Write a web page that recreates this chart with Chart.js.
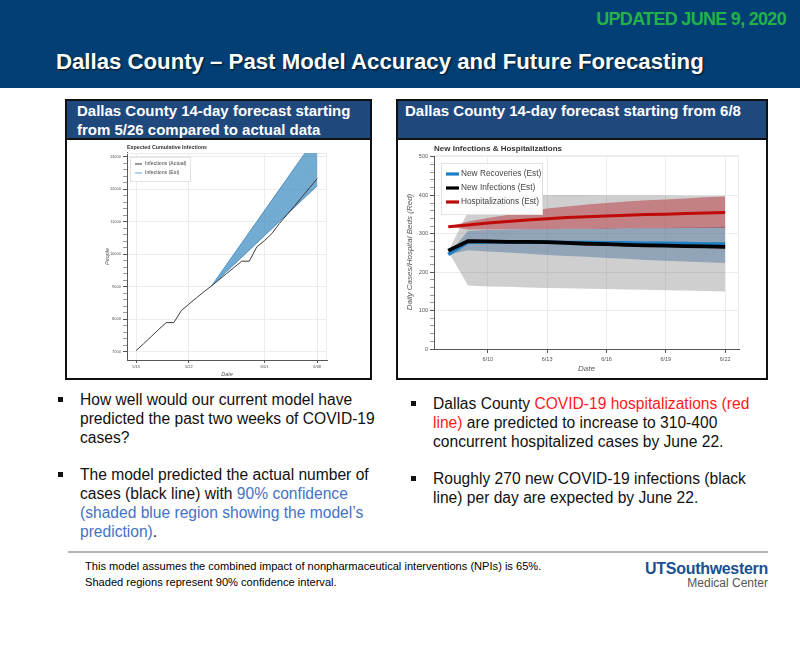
<!DOCTYPE html>
<html>
<head>
<meta charset="utf-8">
<title>Dallas County – Past Model Accuracy and Future Forecasting</title>
<script src="https://cdn.jsdelivr.net/npm/chart.js@4.4.1/dist/chart.umd.min.js"></script>
<style>
  body { margin: 0; background: #fff; }
  #slide { position: relative; width: 800px; height: 660px; overflow: hidden; background: #fff;
           font-family: "Liberation Sans", Arial, Helvetica, sans-serif; color: #111; }
  .banner { position: absolute; left: 0; top: 0; width: 800px; height: 88px; background: #023f74; }
  .updated { position: absolute; right: 14px; top: 9px; color: #22b24a; font-weight: bold; font-size: 18px;
             letter-spacing: -0.7px; white-space: nowrap; }
  .title { position: absolute; left: 56px; top: 49px; color: #fff; font-weight: bold; font-size: 22.2px;
           text-shadow: 1px 1px 2px rgba(0,0,0,.7); white-space: nowrap; }
  .panel { position: absolute; top: 99px; height: 281px; border: 2px solid #111; box-sizing: border-box; background: #fff; }
  .phead { height: 39px; box-sizing: border-box; background: #1f497d; border-bottom: 2px solid #111; color: #fff;
           font-weight: bold; font-size: 15px; line-height: 19px; white-space: nowrap; }
  .chartbox { position: absolute; top: 140px; height: 238px; }
  .bullets { position: absolute; font-size: 15.6px; line-height: 19px; white-space: nowrap; }
  .bullets p { margin: 0 0 18px 0; position: relative; }
  .bullets p::before { content: ""; position: absolute; left: -22px; top: 7px; width: 5px; height: 5px; background: #111; }
  .blue { color: #4472c4; }
  .red { color: #ff1a1a; }
  .rule { position: absolute; left: 68px; top: 551px; width: 700px; height: 2px; background: #b4b4b4; }
  .foot { position: absolute; left: 85px; top: 558px; font-size: 11.1px; line-height: 16px; color: #000; white-space: nowrap; }
  .logo1 { position: absolute; right: 32px; top: 560px; font-size: 16px; font-weight: bold; color: #1c4f8f;
           letter-spacing: -0.3px; white-space: nowrap; }
  .logo2 { position: absolute; right: 32px; top: 576px; font-size: 12px; color: #555; white-space: nowrap; }
</style>
</head>
<body>
<div id="slide">
  <div class="banner"></div>
  <div class="updated">UPDATED JUNE 9, 2020</div>
  <div class="title">Dallas County – Past Model Accuracy and Future Forecasting</div>

  <div class="panel" style="left:65px;width:307px;">
    <div class="phead" style="padding:0 0 0 10px;">Dallas County 14-day forecast starting<br>from 5/26 compared to actual data</div>
  </div>
  <div class="panel" style="left:396px;width:372px;">
    <div class="phead" style="padding:0 0 0 7px;">Dallas County 14-day forecast starting from 6/8</div>
  </div>

  <div class="chartbox" style="left:67px;width:303px;"><canvas id="pastChart" width="303" height="238"></canvas></div>
  <div class="chartbox" style="left:398px;width:368px;"><canvas id="futureChart" width="368" height="238"></canvas></div>

  <div class="bullets" style="left:80px;top:390px;">
    <p>How well would our current model have<br>predicted the past two weeks of COVID-19<br>cases?</p>
    <p>The model predicted the actual number of<br>cases (black line) with <span class="blue">90% confidence<br>(shaded blue region showing the model’s<br>prediction)</span>.</p>
  </div>
  <div class="bullets" style="left:433px;top:394px;">
    <p>Dallas County <span class="red">COVID-19 hospitalizations (red<br>line)</span> are predicted to increase to 310-400<br>concurrent hospitalized cases by June 22.</p>
    <p>Roughly 270 new COVID-19 infections (black<br>line) per day are expected by June 22.</p>
  </div>

  <div class="rule"></div>
  <div class="foot">This model assumes the combined impact of nonpharmaceutical interventions (NPIs) is 65%.<br>Shaded regions represent 90% confidence interval.</div>
  <div class="logo1">UTSouthwestern</div>
  <div class="logo2">Medical Center</div>
</div>

<script>
// Past 14-day forecast (x = days since 5/15)
const pastDays = [0, 1, 2, 3, 4, 5, 6, 7, 8, 9, 10, 11, 12, 13, 14, 15, 16, 17, 18, 19, 20, 21, 22, 23, 24];
const actualInfections = [7040, 7250, 7470, 7690, 7900, 7900, 8270, 8470, 8660, 8850, 9030, 9220, 9410, 9600, 9790,
                          9790, 10230, 10420, 10640, 10950, 11220, 11490, 11770, 12050, 12330];
const forecastDays = [10, 11, 12, 13, 14, 15, 16, 17, 18, 19, 20, 21, 22, 23, 24];
const estInfections = [9030, 9300, 9570, 9840, 10110, 10380, 10650, 10920, 11190, 11460, 11730, 12010, 12290, 12570, 12850];
const estUpper = [9030, 9360, 9690, 10020, 10350, 10680, 11010, 11340, 11670, 12000, 12330, 12660, 12990, 13320, 13650];
const estLower = [9030, 9250, 9470, 9690, 9910, 10130, 10350, 10570, 10790, 11010, 11230, 11450, 11670, 11890, 12110];
const pastTickDays = [0, 7, 17, 24];
const pastTickLabels = ['5/15', '5/22', '6/01', '6/08'];
const pastYTicks = [7000, 8000, 9000, 10000, 11000, 12000, 13000];

// Future forecast (x = days since 6/8)
const futureDays = [0, 1, 2, 3, 4, 5, 6, 7, 8, 9, 10, 11, 12, 13, 14];
const hospitalizations = [318, 323, 328, 332, 336, 339, 342, 344, 346, 348, 350, 351, 353, 354, 355];
const hospUpper = [318, 332, 341, 349, 357, 366, 371, 376, 380, 384, 387, 389, 392, 395, 397];
const hospLower = [318, 311, 311, 312, 312, 312, 313, 313, 313, 314, 314, 314, 315, 315, 315];
const newInfections = [256, 281, 280, 279, 279, 278, 276, 274, 273, 271, 270, 269, 268, 267, 266];
const infUpper = [254, 358, 396, 400, 401, 401, 401, 401, 400, 400, 400, 400, 399, 399, 399];
const infLower = [254, 165, 163, 162, 160, 159, 158, 157, 156, 155, 154, 153, 152, 151, 150];
const newRecoveries = [246, 279, 279, 279, 278, 278, 277, 277, 276, 276, 275, 275, 274, 273, 273];
const recUpper = [246, 308, 310, 311, 312, 312, 313, 313, 314, 314, 315, 315, 316, 317, 318];
const recLower = [246, 257, 254, 251, 248, 245, 242, 240, 237, 235, 232, 230, 228, 226, 224];
const futureTickDays = [2, 5, 8, 11, 14];
const futureTickLabels = ['6/10', '6/13', '6/16', '6/19', '6/22'];
const futureYTicks = [0, 100, 200, 300, 400, 500];

Chart.defaults.font.family = "'Liberation Sans', Arial, Helvetica, sans-serif";
Chart.defaults.animation = false;

function toPoints(xs, ys) {
    return ys.map((y, i) => ({ x: xs[i], y: y }));
}

// minor tick positions between the labelled ones
function withMinor(major, parts) {
    const out = [];
    for (let i = 0; i < major.length - 1; i++) {
        const step = (major[i + 1] - major[i]) / parts;
        for (let k = 0; k < parts; k++) out.push(major[i] + k * step);
    }
    out.push(major[major.length - 1]);
    return out;
}

// legend drawn inside the plot, like the original
const boxLegend = {
    id: 'boxLegend',
    afterDatasetsDraw(chart, args, opts) {
        if (!opts.items) return;
        const { ctx, chartArea } = chart;
        const x0 = chartArea.left + opts.dx;
        const y0 = chartArea.top + opts.dy;
        ctx.save();
        ctx.fillStyle = 'rgba(255,255,255,0.95)';
        ctx.fillRect(x0, y0, opts.w, opts.h);
        ctx.strokeStyle = '#e2e2e2';
        ctx.lineWidth = 1;
        ctx.strokeRect(x0 + 0.5, y0 + 0.5, opts.w, opts.h);
        ctx.font = opts.fontSize + "px 'Liberation Sans', Arial, sans-serif";
        ctx.textBaseline = 'middle';
        opts.items.forEach((idx, i) => {
            const ds = chart.data.datasets[idx];
            const y = y0 + opts.first + i * opts.step;
            ctx.strokeStyle = ds.borderColor;
            ctx.lineWidth = opts.lineWidth;
            ctx.beginPath();
            ctx.moveTo(x0 + opts.pad, y);
            ctx.lineTo(x0 + opts.pad + opts.swatch, y);
            ctx.stroke();
            ctx.fillStyle = '#444';
            ctx.fillText(ds.label, x0 + opts.textX, y);
        });
        ctx.restore();
    }
};

// light top/right outline of the plot area
const plotFrame = {
    id: 'plotFrame',
    beforeDatasetsDraw(chart) {
        const { ctx, chartArea } = chart;
        ctx.save();
        ctx.strokeStyle = '#ececec';
        ctx.lineWidth = 1;
        ctx.beginPath();
        ctx.moveTo(chartArea.left, chartArea.top + 0.5);
        ctx.lineTo(chartArea.right - 0.5, chartArea.top + 0.5);
        ctx.lineTo(chartArea.right - 0.5, chartArea.bottom);
        ctx.stroke();
        ctx.restore();
    }
};

// ---- past model accuracy ----
const pastMinor = withMinor(pastYTicks, 5);
new Chart(document.getElementById('pastChart'), {
    type: 'line',
    plugins: [boxLegend, plotFrame],
    data: {
        datasets: [{
            label: 'Infections (Actual)',
            data: toPoints(pastDays, actualInfections),
            borderColor: '#3a3a3a',
            borderWidth: 1,
            pointRadius: 0,
            fill: false
        }, {
            label: 'Infections (Est)',
            data: toPoints(forecastDays, estInfections),
            borderColor: '#62acdf',
            borderWidth: 0.9,
            pointRadius: 0,
            fill: false
        }, {
            label: '',
            data: toPoints(forecastDays, estUpper),
            borderColor: '#2b78b4',
            borderWidth: 0.7,
            backgroundColor: 'rgba(31,119,180,0.62)',
            pointRadius: 0,
            fill: '+1'
        }, {
            label: '',
            data: toPoints(forecastDays, estLower),
            borderColor: '#2b78b4',
            borderWidth: 0.7,
            pointRadius: 0,
            fill: false
        }]
    },
    options: {
        responsive: false,
        layout: { padding: { left: 37, right: 43, top: 0, bottom: 0 } },
        plugins: {
            legend: { display: false },
            tooltip: { enabled: false },
            title: {
                display: true,
                text: 'Expected Cumulative Infections',
                align: 'start',
                fullSize: false,
                color: '#333',
                font: { size: 5.3, weight: 'bold' },
                padding: { top: 4, bottom: 2.6 }
            },
            boxLegend: { items: [0, 1], dx: 3, dy: 4, w: 60, h: 24, first: 7, step: 9,
                         pad: 5, swatch: 7, textX: 15, lineWidth: 1, fontSize: 5.2 }
        },
        scales: {
            x: {
                type: 'linear',
                min: -1.2,
                max: 25.3,
                afterBuildTicks: s => { s.ticks = pastTickDays.map(v => ({ value: v })); },
                afterFit: s => { s.height = 18; },
                ticks: {
                    autoSkip: false, maxRotation: 0, padding: 1,
                    font: { size: 4 }, color: '#555',
                    callback: (v, i) => pastTickLabels[i]
                },
                grid: { color: '#ececec', tickColor: '#555', tickLength: 3 },
                border: { display: true, color: '#555', width: 1 },
                title: { display: true, text: 'Date', color: '#555',
                         font: { size: 5.5, style: 'italic' }, padding: { top: 0, bottom: 0.7 } }
            },
            y: {
                type: 'linear',
                min: 6750,
                max: 13120,
                afterBuildTicks: s => { s.ticks = pastMinor.map(v => ({ value: v })); },
                afterFit: s => { s.width = 23; },
                ticks: {
                    autoSkip: false, padding: 2,
                    font: { size: 4 }, color: '#555',
                    callback: v => pastYTicks.includes(v) ? String(v) : ''
                },
                grid: {
                    color: c => pastYTicks.includes(c.tick.value) ? '#ececec' : 'rgba(0,0,0,0)',
                    tickColor: c => pastYTicks.includes(c.tick.value) ? '#555' : '#999',
                    tickLength: 4
                },
                border: { display: true, color: '#555', width: 1 },
                title: { display: true, text: 'People', color: '#555',
                         font: { size: 5.5, style: 'italic' }, padding: { top: 0, bottom: 0 } }
            }
        }
    }
});

// ---- future forecast ----
const futureMinor = withMinor(futureYTicks, 5);
new Chart(document.getElementById('futureChart'), {
    type: 'line',
    plugins: [boxLegend, plotFrame],
    data: {
        datasets: [{
            label: 'Hospitalizations (Est)',
            data: toPoints(futureDays, hospitalizations),
            borderColor: '#c00a0a',
            borderWidth: 3,
            pointRadius: 0,
            fill: false
        }, {
            label: 'New Infections (Est)',
            data: toPoints(futureDays, newInfections),
            borderColor: '#000000',
            borderWidth: 3.8,
            pointRadius: 0,
            fill: false
        }, {
            label: 'New Recoveries (Est)',
            data: toPoints(futureDays, newRecoveries),
            borderColor: '#1f7fc4',
            borderWidth: 3.8,
            pointRadius: 0,
            fill: false
        }, {
            label: '',
            data: toPoints(futureDays, hospUpper),
            borderWidth: 0,
            borderColor: 'rgba(0,0,0,0)',
            backgroundColor: 'rgba(178,22,30,0.42)',
            pointRadius: 0,
            fill: '+1'
        }, {
            label: '',
            data: toPoints(futureDays, hospLower),
            borderWidth: 0,
            borderColor: 'rgba(0,0,0,0)',
            pointRadius: 0,
            fill: false
        }, {
            label: '',
            data: toPoints(futureDays, recUpper),
            borderWidth: 0,
            borderColor: 'rgba(0,0,0,0)',
            backgroundColor: 'rgba(40,90,140,0.36)',
            pointRadius: 0,
            fill: '+1'
        }, {
            label: '',
            data: toPoints(futureDays, recLower),
            borderWidth: 0,
            borderColor: 'rgba(0,0,0,0)',
            pointRadius: 0,
            fill: false
        }, {
            label: '',
            data: toPoints(futureDays, infUpper),
            borderWidth: 0,
            borderColor: 'rgba(0,0,0,0)',
            backgroundColor: 'rgba(128,128,128,0.38)',
            pointRadius: 0,
            fill: '+1'
        }, {
            label: '',
            data: toPoints(futureDays, infLower),
            borderWidth: 0,
            borderColor: 'rgba(0,0,0,0)',
            pointRadius: 0,
            fill: false
        }]
    },
    options: {
        responsive: false,
        layout: { padding: { left: 7, right: 27, top: 0, bottom: 0 } },
        plugins: {
            legend: { display: false },
            tooltip: { enabled: false },
            title: {
                display: true,
                text: 'New Infections & Hospitalizations',
                align: 'start',
                fullSize: false,
                color: '#333',
                font: { size: 8, weight: 'bold' },
                padding: { top: 4, bottom: 1.4 }
            },
            boxLegend: { items: [2, 1, 0], dx: 7, dy: 8, w: 101, h: 51, first: 11, step: 14,
                         pad: 5, swatch: 13, textX: 20, lineWidth: 3.2, fontSize: 8.3 }
        },
        scales: {
            x: {
                type: 'linear',
                min: -0.72,
                max: 14.7,
                afterBuildTicks: s => { s.ticks = futureTickDays.map(v => ({ value: v })); },
                afterFit: s => { s.height = 29; },
                ticks: {
                    autoSkip: false, maxRotation: 0, padding: 3,
                    font: { size: 5.5 }, color: '#555',
                    callback: (v, i) => futureTickLabels[i]
                },
                grid: { color: '#ececec', tickColor: '#555', tickLength: 4 },
                border: { display: true, color: '#555', width: 1 },
                title: { display: true, text: 'Date', color: '#555',
                         font: { size: 8, style: 'italic' }, padding: { top: 0, bottom: 4 } }
            },
            y: {
                type: 'linear',
                min: 0,
                max: 505,
                afterBuildTicks: s => { s.ticks = futureMinor.map(v => ({ value: v })); },
                afterFit: s => { s.width = 29; },
                ticks: {
                    autoSkip: false, padding: 2,
                    font: { size: 5.5 }, color: '#555',
                    callback: v => futureYTicks.includes(v) ? String(v) : ''
                },
                grid: {
                    color: c => futureYTicks.includes(c.tick.value) ? '#ececec' : 'rgba(0,0,0,0)',
                    tickColor: c => futureYTicks.includes(c.tick.value) ? '#555' : '#999',
                    tickLength: 4
                },
                border: { display: true, color: '#555', width: 1 },
                title: { display: true, text: 'Daily Cases/Hospital Beds (Red)', color: '#555',
                         font: { size: 8, style: 'italic' }, padding: { top: 0, bottom: 0 } }
            }
        }
    }
});
</script>
</body>
</html>
